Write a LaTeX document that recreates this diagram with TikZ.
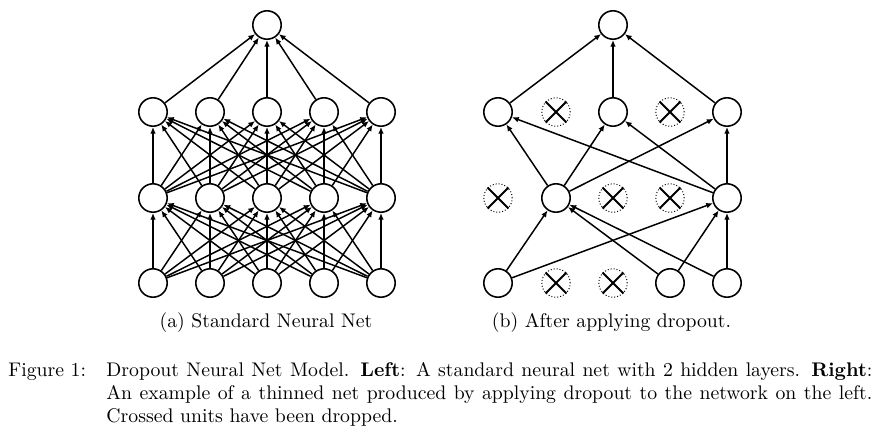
\documentclass[tikz,border=0pt]{standalone}
\usetikzlibrary{arrows.meta}
\begin{document}
\begin{tikzpicture}[x=0.507pt,y=-0.507pt,
  unit/.style={circle,draw,line width=0.8pt,minimum size=14.4pt,inner sep=0pt},
  dropped/.style={circle,draw,densely dotted,line width=0.5pt,minimum size=14.4pt,inner sep=0pt},
  crossline/.style={line width=0.95pt},
  conn/.style={line width=0.75pt,-{Latex[length=3.4pt,width=2.9pt]}},
  lbl/.style={anchor=base,inner sep=0pt,font=\fontsize{10}{12}\selectfont}]
\useasboundingbox (0,0) rectangle (882,436);
% ---------- left: standard net ----------
\foreach \i/\x in {0/153,1/210,2/267,3/324,4/381} {
  \node[unit] (Li\i) at (\x,283) {};
  \node[unit] (La\i) at (\x,198) {};
  \node[unit] (Lb\i) at (\x,112) {};
}
\node[unit] (Lo) at (267,25) {};
\foreach \i in {0,...,4} {
  \foreach \j in {0,...,4} {
    \draw[conn] (Li\i) -- (La\j);
    \draw[conn] (La\i) -- (Lb\j);
  }
  \draw[conn] (Lb\i) -- (Lo);
}
% ---------- right: thinned net ----------
\node[unit] (Ro) at (613,25) {};
\node[unit] (Rb0) at (498,112) {};
\node[dropped] (Rb1) at (556,112) {};
\node[unit] (Rb2) at (613,112) {};
\node[dropped] (Rb3) at (670,112) {};
\node[unit] (Rb4) at (727,112) {};
\node[dropped] (Ra0) at (498,198) {};
\node[unit] (Ra1) at (556,198) {};
\node[dropped] (Ra2) at (613,198) {};
\node[dropped] (Ra3) at (670,198) {};
\node[unit] (Ra4) at (727,198) {};
\node[unit] (Ri0) at (498,283) {};
\node[dropped] (Ri1) at (556,283) {};
\node[dropped] (Ri2) at (613,283) {};
\node[unit] (Ri3) at (670,283) {};
\node[unit] (Ri4) at (727,283) {};
\foreach \n in {Rb1,Rb3,Ra0,Ra2,Ra3,Ri1,Ri2} {
  \draw[crossline] (\n.north west) -- (\n.south east);
  \draw[crossline] (\n.north east) -- (\n.south west);
}
\foreach \s in {Rb0,Rb2,Rb4} \draw[conn] (\s) -- (Ro);
\foreach \s in {Ra1,Ra4} \foreach \t in {Rb0,Rb2,Rb4} \draw[conn] (\s) -- (\t);
\foreach \s in {Ri0,Ri3,Ri4} \foreach \t in {Ra1,Ra4} \draw[conn] (\s) -- (\t);
% ---------- labels ----------
\node[lbl] (la) at (266,327) {(a) Standard Neural Net};
\node[lbl] (lb) at (611.5,327) {(b) After applying dropout.};
\node[anchor=base west,inner sep=0pt,font=\fontsize{10}{11.7}\selectfont] (cap) at (8,376)
 {\parbox[t]{438pt}{\hangindent=49.7pt\hangafter=1\makebox[49.7pt][l]{Figure 1:}Dropout Neural Net Model. \textbf{Left}: A standard neural net with 2 hidden layers. \textbf{Right}:\linebreak An example of a thinned net produced by applying dropout to the network on the left.\linebreak Crossed units have been dropped.}};
\end{tikzpicture}
\end{document}
